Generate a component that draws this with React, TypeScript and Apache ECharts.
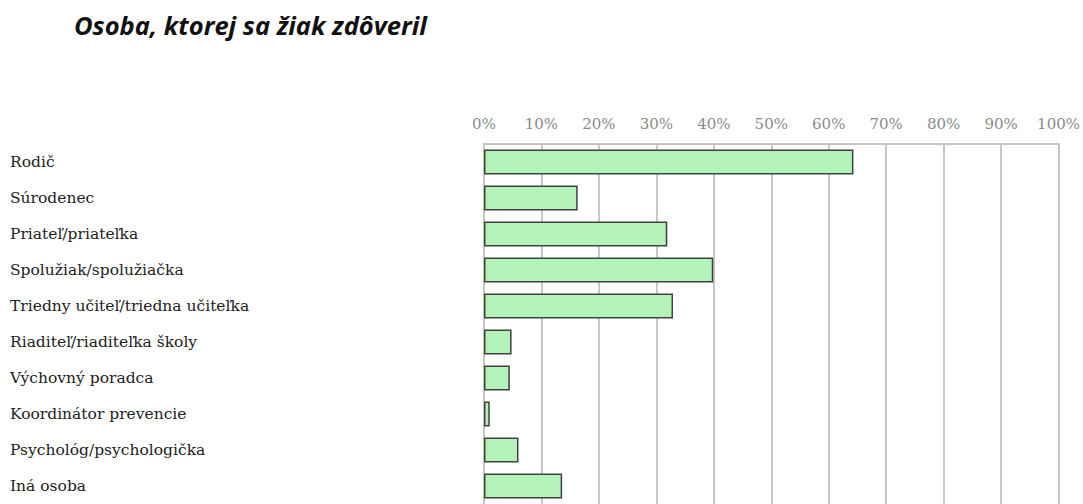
import React, { useEffect, useRef } from "react";
import * as echarts from "echarts";

const categories = [
  "Rodič",
  "Súrodenec",
  "Priateľ/priateľka",
  "Spolužiak/spolužiačka",
  "Triedny učiteľ/triedna učiteľka",
  "Riaditeľ/riaditeľka školy",
  "Výchovný poradca",
  "Koordinátor prevencie",
  "Psychológ/psychologička",
  "Iná osoba",
];
const values = [64.3, 16.3, 31.9, 39.9, 32.9, 4.8, 4.5, 1.0, 6.0, 13.6];
const titleText = "Osoba, ktorej sa žiak zdôveril";

export default function App() {
  const ref = useRef<HTMLDivElement>(null);
  useEffect(() => {
    if (!ref.current) return;
    const chart = echarts.init(ref.current, null, { renderer: "svg" });
    chart.setOption({
      animation: false,
      backgroundColor: "#ffffff",
      title: {
        text: titleText,
        left: 69,
        top: 7,
        textStyle: {
          fontFamily: "Open Sans",
          fontStyle: "italic",
          fontWeight: "bold",
          fontSize: 25.5,
          color: "#111111",
        },
      },
      grid: { left: 484, top: 144, width: 579, height: 366 },
      xAxis: {
        type: "value",
        position: "top",
        min: 0,
        max: 100,
        interval: 10,
        axisLine: { show: true, lineStyle: { color: "#c4c4c4", width: 2 } },
        axisTick: { show: false },
        splitLine: { show: true, lineStyle: { color: "#c8c8c8", width: 2 } },
        axisLabel: {
          formatter: "{value}%",
          margin: 13,
          color: "#8a8a8a",
          fontFamily: "DejaVu Serif",
          fontSize: 15,
        },
      },
      yAxis: {
        type: "category",
        inverse: true,
        data: categories,
        axisLine: { show: true, lineStyle: { color: "#c4c4c4", width: 2 } },
        axisTick: { show: false },
        axisLabel: {
          align: "left",
          margin: 474,
          color: "#222222",
          fontFamily: "DejaVu Serif",
          fontSize: 15.5,
        },
      },
      series: [
        {
          type: "bar",
          data: values,
          barWidth: 25,
          itemStyle: {
            color: "#b3f2b9",
            borderColor: "#404040",
            borderWidth: 1.5,
          },
        },
      ],
    });
    return () => chart.dispose();
  }, []);
  return (
    <div
      ref={ref}
      style={{ position: "absolute", left: 0, top: 0, width: 1083, height: 504 }}
    />
  );
}
